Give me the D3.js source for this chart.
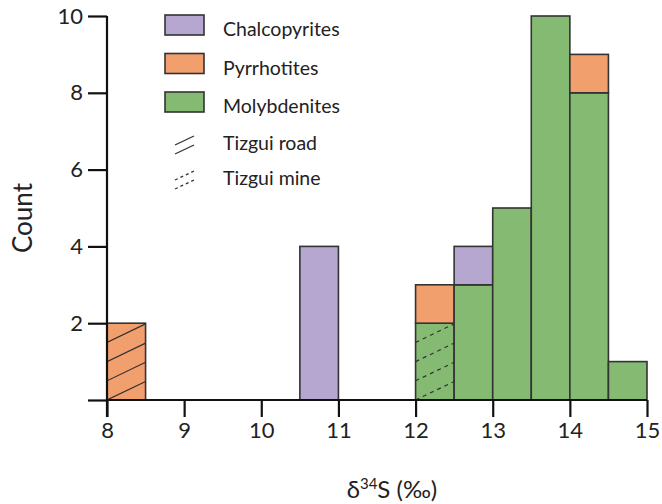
<!DOCTYPE html>
<html>
<head>
<meta charset="utf-8">
<script src="https://cdn.jsdelivr.net/npm/d3@7"></script>
<style>
  body { margin: 0; background: #fff; }
  svg text { font-family: Lato, "Open Sans", sans-serif; fill: #222; }
</style>
</head>
<body>
<div class="chart"></div>
<script>

// Bin edges (lower edge of each 0.5 bin) and stacked counts per mineral
var binStart = [8, 10.5, 12, 12.5, 13, 13.5, 14, 14.5];
var molybdenite = [0, 0, 2, 3, 5, 10, 8, 1];
var pyrrhotite = [2, 0, 1, 0, 0, 0, 1, 0];
var chalcopyrite = [0, 4, 0, 1, 0, 0, 0, 0];
// hatch: which bin/mineral is from which locality
var roadBins = [{ bin: 8, mineral: "Pyrrhotites" }];
var mineBins = [{ bin: 12, mineral: "Molybdenites" }];

var binWidth = 0.5;
var xTicks = [8, 9, 10, 11, 12, 13, 14, 15];
var yTicks = [0, 2, 4, 6, 8, 10];
var minerals = ["Chalcopyrites", "Pyrrhotites", "Molybdenites"];
var colors = { Chalcopyrites: "#b5a7cf", Pyrrhotites: "#f29f6e", Molybdenites: "#85ba72" };

var width = 662, height = 504;

var svg = d3.select(".chart")
  .append("svg")
    .attr("width", width)
    .attr("height", height);

var x = d3.scaleLinear().domain([8, 15]).range([107, 647]);
var y = d3.scaleLinear().domain([0, 10]).range([400, 16]);

// Build stacked segments, molybdenite at bottom, then pyrrhotite, then chalcopyrite
var segments = [];
binStart.forEach(function(b, i) {
    var base = 0;
    [["Molybdenites", molybdenite[i]], ["Pyrrhotites", pyrrhotite[i]], ["Chalcopyrites", chalcopyrite[i]]]
      .forEach(function(s) {
        if (s[1] > 0) {
            segments.push({ bin: b, mineral: s[0], y0: base, y1: base + s[1] });
            base += s[1];
        }
    });
});

var defs = svg.append("defs");

svg.selectAll("rect.bar")
  .data(segments)
  .enter()
  .append("rect")
    .attr("class", "bar")
    .attr("x", function(d) { return x(d.bin); })
    .attr("y", function(d) { return y(d.y1); })
    .attr("width", function(d) { return x(d.bin + binWidth) - x(d.bin); })
    .attr("height", function(d) { return y(d.y0) - y(d.y1); })
    .style("fill", function(d) { return colors[d.mineral]; })
    .style("stroke", "#333")
    .style("stroke-width", 1.6);

// Hatch lines clipped to a segment, starting at the bottom-left corner
function hatch(list, dash, id) {
    list.forEach(function(h, k) {
        var seg = segments.filter(function(s) { return s.bin == h.bin && s.mineral == h.mineral; })[0];
        var x0 = x(seg.bin), x1 = x(seg.bin + binWidth);
        var yTop = y(seg.y1), yBot = y(seg.y0);
        var cid = id + k;
        defs.append("clipPath").attr("id", cid)
          .append("rect")
            .attr("x", x0).attr("y", yTop)
            .attr("width", x1 - x0).attr("height", yBot - yTop);
        var rise = (x1 - x0) * 0.48, gap = (yBot - yTop) / 4;
        var g = svg.append("g").attr("clip-path", "url(#" + cid + ")");
        for (var yy = yBot; yy > yTop + 1; yy -= gap) {
            g.append("line")
              .attr("x1", x0).attr("y1", yy)
              .attr("x2", x1).attr("y2", yy - rise)
              .style("stroke", "#333")
              .style("stroke-width", 1.2)
              .style("stroke-dasharray", dash);
        }
    });
}
hatch(roadBins, null, "roadClip");
hatch(mineBins, "4,4", "mineClip");

// Axes
var yAxis = d3.axisLeft(y)
  .tickValues(yTicks)
  .tickSize(19)
  .tickPadding(5)
  .tickFormat(function(d) { return d == 0 ? "" : d; });

var xAxis = d3.axisBottom(x)
  .tickValues(xTicks)
  .tickSize(17)
  .tickPadding(5)
  .tickFormat(d3.format("d"));

var gy = svg.append("g")
  .attr("transform", "translate(107,0)")
  .call(yAxis);
gy.select(".domain").attr("d", "M0,16V417");

var gx = svg.append("g")
  .attr("transform", "translate(0,400)")
  .call(xAxis);
gx.select(".domain").attr("d", "M107,0H647");

svg.selectAll(".tick line, .domain")
  .style("stroke", "#111")
  .style("stroke-width", 2.2);
svg.selectAll(".tick text")
  .style("font-size", "22px")
  .style("font-family", "Lato, 'Open Sans', sans-serif")
  .style("fill", "#222");

// Axis titles
svg.append("text")
  .attr("transform", "translate(32,218) rotate(-90)")
  .attr("text-anchor", "middle")
  .style("font-size", "26px")
  .text("Count");

var xl = svg.append("text")
  .attr("x", 392)
  .attr("y", 498)
  .attr("text-anchor", "middle")
  .style("font-size", "24px");
xl.append("tspan").text("δ");
xl.append("tspan").attr("dy", -9).style("font-size", "15px").text("34");
xl.append("tspan").attr("dy", 9).text("S (‰)");

// Legend
var legend = svg.append("g").attr("class", "legend");
minerals.forEach(function(m, i) {
    var ly = 15 + i * 38.5;
    legend.append("rect")
      .attr("x", 165).attr("y", ly)
      .attr("width", 39).attr("height", 20)
      .style("fill", colors[m])
      .style("stroke", "#333")
      .style("stroke-width", 1.6);
    legend.append("text")
      .attr("x", 223).attr("y", ly + 21)
      .style("font-size", "19.5px")
      .text(m);
});

// Hatch symbols in legend
[["Tizgui road", null, 150], ["Tizgui mine", "3,3", 185]].forEach(function(l) {
    var by = l[2];
    [0, 9].forEach(function(off) {
        legend.append("line")
          .attr("x1", 175).attr("y1", by - 5 + off)
          .attr("x2", 194).attr("y2", by - 14 + off)
          .style("stroke", "#333")
          .style("stroke-width", 1.3)
          .style("stroke-dasharray", l[1]);
    });
    legend.append("text")
      .attr("x", 223).attr("y", by)
      .style("font-size", "19.5px")
      .text(l[0]);
});

</script>
</body>
</html>
